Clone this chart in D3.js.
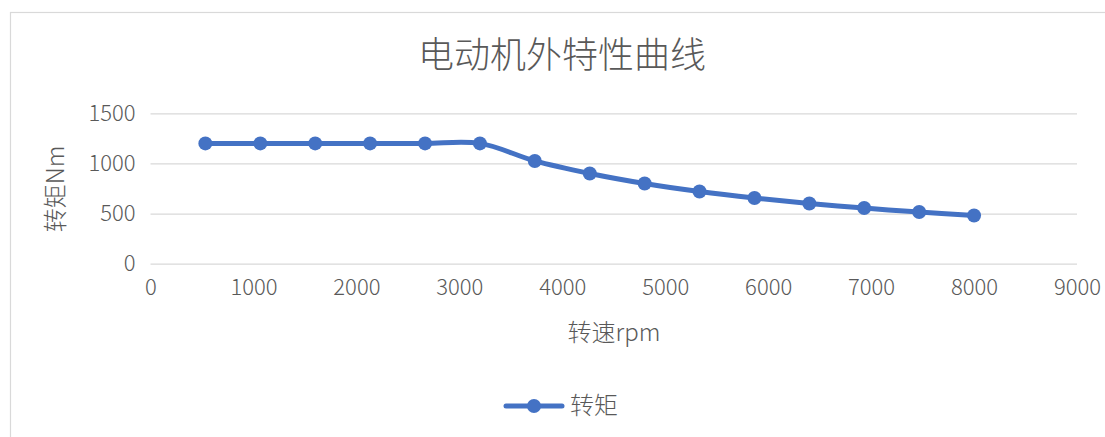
<!DOCTYPE html>
<html>
<head>
<meta charset="utf-8">
<script src="https://cdn.jsdelivr.net/npm/d3@7"></script>
<style>
  html, body { margin: 0; padding: 0; background: #ffffff; }
  svg { display: block; }
  text { font-family: "Noto Sans CJK SC", "Noto Sans", sans-serif; font-weight: 300; fill: #595959; }
</style>
</head>
<body>
<svg id="chart" width="1105" height="437"></svg>
<script>
// Motor speed (rpm) and torque (Nm) at each measured point
const speedRpm = [533, 1067, 1600, 2133, 2667, 3200, 3733, 4267, 4800, 5333, 5867, 6400, 6933, 7467, 8000];
const torqueNm = [1200, 1200, 1200, 1200, 1200, 1200, 1025, 900, 800, 720, 655, 600, 555, 515, 480];

const xTicks = [0, 1000, 2000, 3000, 4000, 5000, 6000, 7000, 8000, 9000];
const yTicks = [0, 500, 1000, 1500];

const chartTitle = "电动机外特性曲线";
const xTitle = "转速rpm";
const yTitle = "转矩Nm";
const seriesName = "转矩";

const blue = "#4472C4";
const svg = d3.select("#chart");

// chart frame
svg.append("rect")
  .attr("x", 10.5).attr("y", 12.5)
  .attr("width", 1200).attr("height", 600)
  .attr("fill", "none").attr("stroke", "#d9d9d9").attr("stroke-width", 1.2);

const x = d3.scaleLinear().domain([0, 9000]).range([150.5, 1077]);
const y = d3.scaleLinear().domain([0, 1500]).range([263.7, 113.3]);

// title
svg.append("text")
  .attr("x", 562).attr("y", 68)
  .attr("text-anchor", "middle")
  .attr("font-size", 36)
  .text(chartTitle);

// horizontal gridlines and y tick labels
const yAxis = d3.axisLeft(y).tickValues(yTicks).tickFormat(d3.format("d"))
  .tickSize(-(x.range()[1] - x.range()[0])).tickPadding(15);
const gy = svg.append("g").attr("transform", `translate(${x.range()[0]},0)`).call(yAxis);
gy.select(".domain").remove();
gy.selectAll(".tick line").attr("stroke", "#d9d9d9").attr("stroke-width", 1.3);
gy.selectAll(".tick text")
  .attr("font-size", 22)
  .attr("font-family", "'Noto Sans', sans-serif")
  .attr("font-weight", 300)
  .attr("fill", "#595959");

// x tick labels
const xAxis = d3.axisBottom(x).tickValues(xTicks).tickFormat(d3.format("d")).tickSize(0).tickPadding(16);
const gx = svg.append("g").attr("transform", `translate(0,${y(0)})`).call(xAxis);
gx.select(".domain").remove();
gx.selectAll(".tick text")
  .attr("font-size", 22)
  .attr("font-family", "'Noto Sans', sans-serif")
  .attr("font-weight", 300)
  .attr("fill", "#595959");

// axis titles
svg.append("text")
  .attr("x", 614).attr("y", 341)
  .attr("text-anchor", "middle")
  .attr("font-size", 24)
  .text(xTitle);

svg.append("text")
  .attr("transform", "translate(64,189) rotate(-90)")
  .attr("text-anchor", "middle")
  .attr("font-size", 24)
  .text(yTitle);

// torque curve
const pts = speedRpm.map((s, i) => [s, torqueNm[i]]);
const line = d3.line()
  .x(d => x(d[0]))
  .y(d => y(d[1]))
  .curve(d3.curveCatmullRom.alpha(0.5));

svg.append("path")
  .datum(pts)
  .attr("d", line)
  .attr("fill", "none")
  .attr("stroke", blue)
  .attr("stroke-width", 5)
  .attr("stroke-linejoin", "round");

svg.append("g").selectAll("circle")
  .data(pts)
  .join("circle")
  .attr("cx", d => x(d[0]))
  .attr("cy", d => y(d[1]))
  .attr("r", 7)
  .attr("fill", blue);

// legend
const lg = svg.append("g");
lg.append("line")
  .attr("x1", 506).attr("x2", 562).attr("y1", 406).attr("y2", 406)
  .attr("stroke", blue).attr("stroke-width", 5).attr("stroke-linecap", "round");
lg.append("circle").attr("cx", 534).attr("cy", 406).attr("r", 7).attr("fill", blue);
lg.append("text")
  .attr("x", 570).attr("y", 414)
  .attr("font-size", 24)
  .text(seriesName);
</script>
</body>
</html>
